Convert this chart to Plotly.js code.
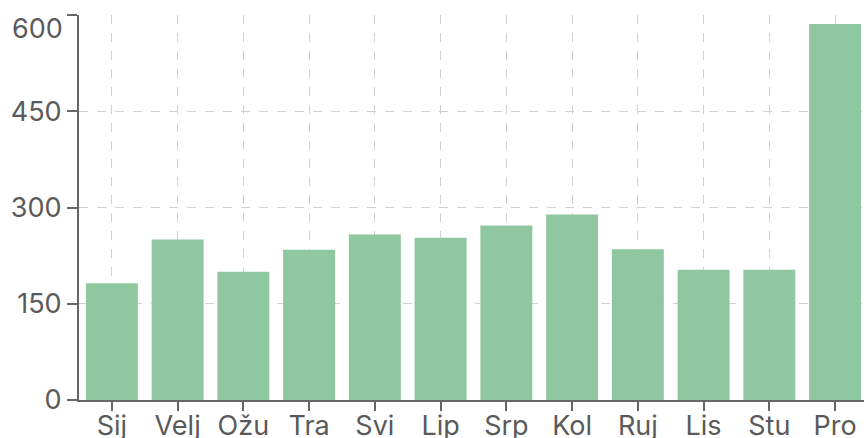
<!DOCTYPE html>
<html>
<head>
<meta charset="utf-8">
<script src="https://cdn.plot.ly/plotly-3.0.1.min.js"></script>
<style>html,body{margin:0;padding:0;overflow:hidden;background:#fff}</style>
</head>
<body>
<div id="chart" style="width:864px;height:438px"></div>
<script>
const months = ["Sij","Velj","Ožu","Tra","Svi","Lip","Srp","Kol","Ruj","Lis","Stu","Pro"];
const values = [182, 250, 200, 234, 258, 253, 272, 289, 235, 203, 203, 586];
const yTicks = [0, 150, 300, 450, 600];
const yTickText = ["0", "150", "300", "450", ""];
const topTickValue = 600;
const topTickLabel = "600";

Plotly.newPlot("chart", [{
  type: "bar",
  x: months,
  y: values,
  marker: {color: "#8fc8a0"},
  hoverinfo: "none"
}], {
  width: 864, height: 438,
  margin: {l: 79, r: 0, t: 15, b: 38},
  bargap: 0.21,
  plot_bgcolor: "#fff",
  paper_bgcolor: "#fff",
  font: {family: "Inter, 'Liberation Sans', sans-serif", color: "#5a5a5a"},
  showlegend: false,
  xaxis: {
    range: [-0.5, 11.44],
    showgrid: true, gridcolor: "#d0d0d0", griddash: "dash", gridwidth: 1,
    showline: true, linecolor: "#666", linewidth: 2,
    ticks: "outside", ticklen: 9, tickwidth: 2, tickcolor: "#666",
    tickfont: {size: 27, color: "#5a5a5a"},
    ticklabelstandoff: -8,
    ticklabeloverflow: "allow",
    fixedrange: true
  },
  yaxis: {
    range: [0, 600],
    tickvals: yTicks,
    ticktext: yTickText,
    showgrid: true, gridcolor: "#d0d0d0", griddash: "dash", gridwidth: 1,
    showline: true, linecolor: "#666", linewidth: 2,
    ticks: "outside", ticklen: 10, tickwidth: 2, tickcolor: "#666",
    tickfont: {size: 27, color: "#5a5a5a"},
    ticklabeloverflow: "allow",
    zeroline: false,
    fixedrange: true
  },
  annotations: [{
    xref: "paper", yref: "y",
    x: 0, y: topTickValue,
    text: topTickLabel,
    showarrow: false,
    xanchor: "right", yanchor: "middle",
    xshift: -14, yshift: -13,
    font: {size: 27, color: "#5a5a5a", family: "Inter, 'Liberation Sans', sans-serif"}
  }]
}, {staticPlot: true});
</script>
</body>
</html>
